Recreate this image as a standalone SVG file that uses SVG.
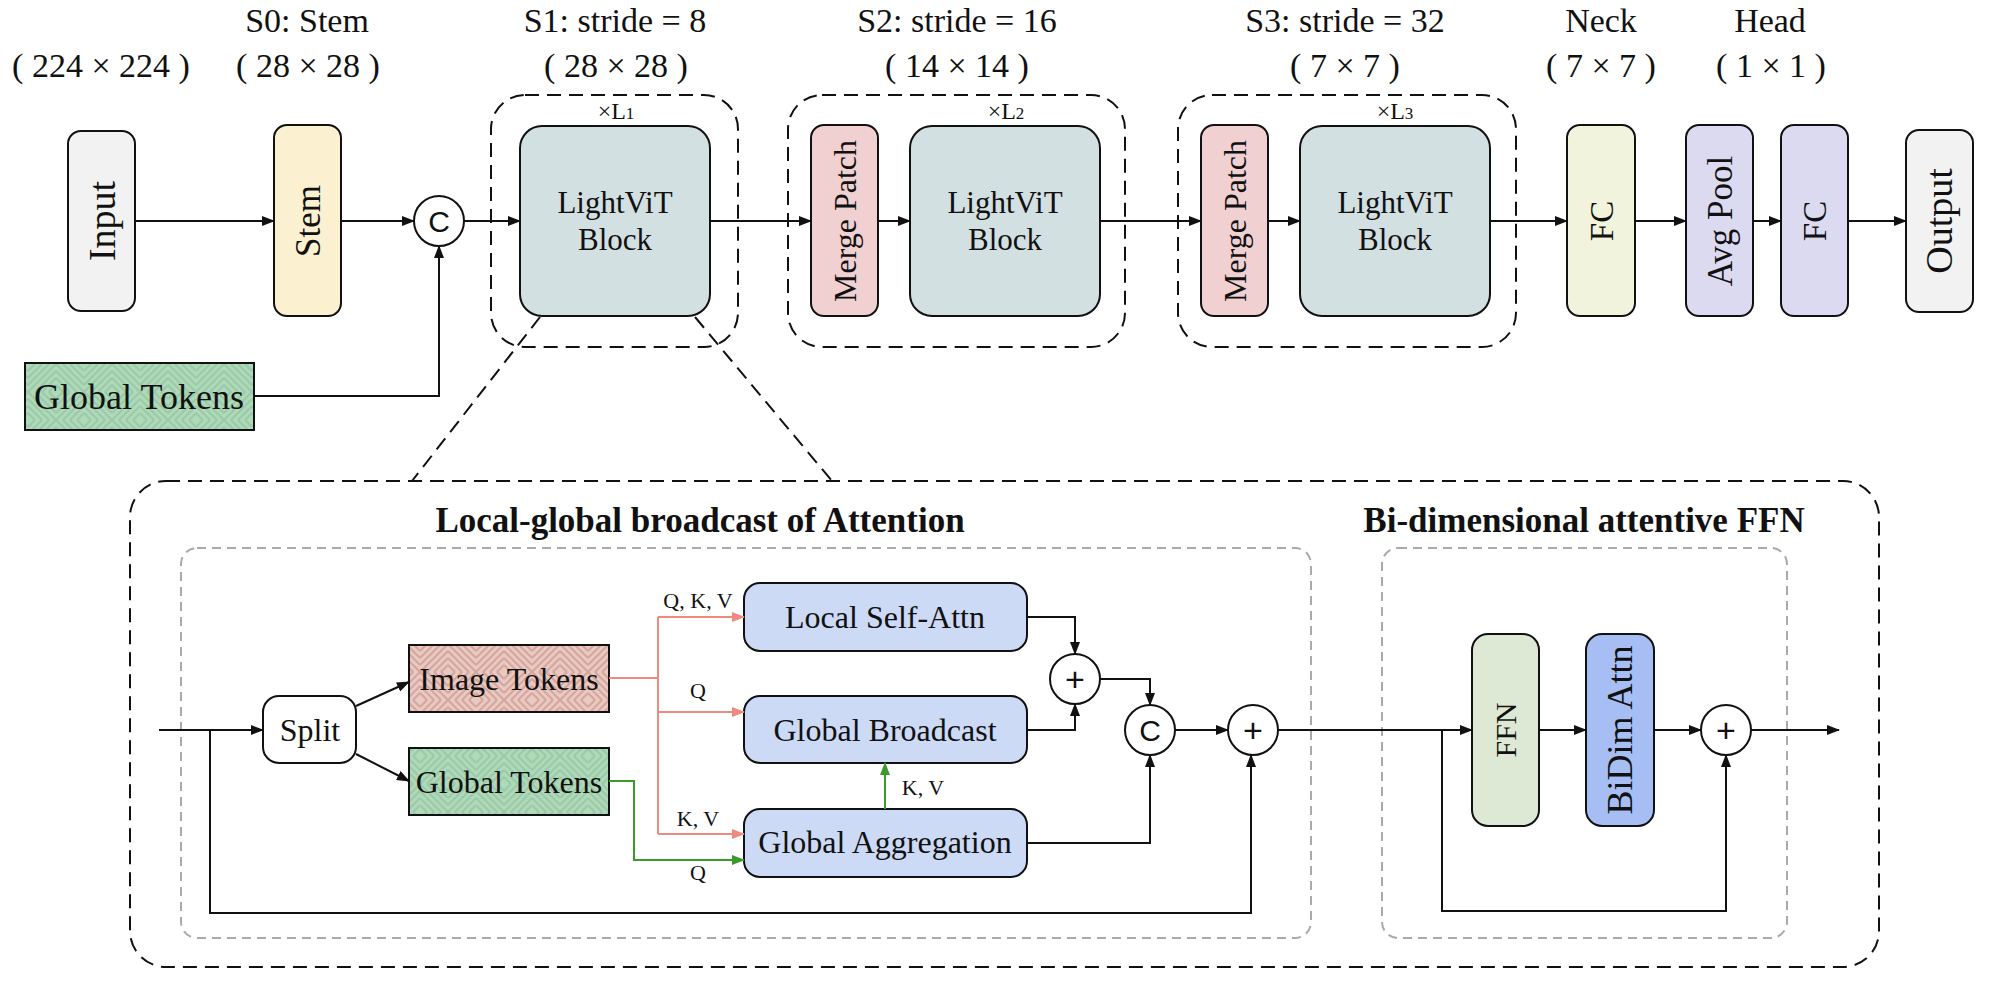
<svg xmlns="http://www.w3.org/2000/svg" width="1990" height="986" viewBox="0 0 1990 986">
<style>
.t{font-family:"Liberation Serif","Times New Roman",serif;fill:#111}
.b{font-weight:bold}
.s{font-family:"Liberation Sans",Arial,sans-serif;fill:#111}
.box{stroke:#111;stroke-width:2}
.ln{fill:none;stroke:#111;stroke-width:2}
.red{fill:none;stroke:#f08a80;stroke-width:2}
.grn{fill:none;stroke:#3a9a2a;stroke-width:2}
.dash{fill:none;stroke:#111;stroke-width:2;stroke-dasharray:14 8}
.gdash{fill:none;stroke:#aaa;stroke-width:2;stroke-dasharray:9 6}
</style>
<defs>
<marker id="ab" markerUnits="userSpaceOnUse" markerWidth="13" markerHeight="10" refX="12" refY="5" orient="auto"><path d="M0,0 L13,5 L0,10 z" fill="#111"/></marker>
<marker id="ar" markerUnits="userSpaceOnUse" markerWidth="13" markerHeight="10" refX="12" refY="5" orient="auto"><path d="M0,0 L13,5 L0,10 z" fill="#f08a80"/></marker>
<marker id="ag" markerUnits="userSpaceOnUse" markerWidth="13" markerHeight="10" refX="12" refY="5" orient="auto"><path d="M0,0 L13,5 L0,10 z" fill="#3a9a2a"/></marker>
<g id="weave">
<path d="M0,7 L7,0 M0,14 L14,0 M0,21 L21,0 M0,28 L28,0 M7,28 L28,7 M14,28 L28,14 M21,28 L28,21"/>
<path d="M28,0 L56,28 M35,0 L56,21 M42,0 L56,14 M49,0 L56,7 M28,7 L49,28 M28,14 L42,28 M28,21 L35,28"/>
<path d="M0,28 L28,56 M0,35 L21,56 M0,42 L14,56 M0,49 L7,56 M7,28 L28,49 M14,28 L28,42 M21,28 L28,35"/>
<path d="M28,56 L56,28 M35,56 L56,35 M42,56 L56,42 M49,56 L56,49 M28,49 L49,28 M28,42 L42,28 M28,35 L35,28"/>
</g>
<pattern id="pr" width="56" height="56" patternUnits="userSpaceOnUse">
<rect width="56" height="56" fill="#e8cac3"/>
<use href="#weave" stroke="#d7a69d" stroke-width="2.2"/>
</pattern>
<pattern id="pg" width="56" height="56" patternUnits="userSpaceOnUse">
<rect width="56" height="56" fill="#afdab6"/>
<use href="#weave" stroke="#9cc9ad" stroke-width="2.2"/>
</pattern>
</defs>
<rect width="1990" height="986" fill="#fff"/>

<g id="titles" class="t" font-size="34" text-anchor="middle">
<text x="307" y="32">S0: Stem</text>
<text x="615" y="32">S1: stride = 8</text>
<text x="957" y="32">S2: stride = 16</text>
<text x="1345" y="32">S3: stride = 32</text>
<text x="1601" y="32">Neck</text>
<text x="1770" y="32">Head</text>
<text x="101" y="77">( 224 × 224 )</text>
<text x="308" y="77">( 28 × 28 )</text>
<text x="616" y="77">( 28 × 28 )</text>
<text x="957" y="77">( 14 × 14 )</text>
<text x="1345" y="77">( 7 × 7 )</text>
<text x="1601" y="77">( 7 × 7 )</text>
<text x="1771" y="77">( 1 × 1 )</text>
</g>

<g id="stage-boxes">
<rect class="dash" x="491" y="95" width="247" height="252" rx="34"/>
<rect class="dash" x="788" y="95" width="337" height="252" rx="34"/>
<rect class="dash" x="1178" y="95" width="338" height="252" rx="34"/>
<g class="t" font-size="24" text-anchor="middle">
<text x="616" y="119">×L<tspan font-size="17">1</tspan></text>
<text x="1006" y="119">×L<tspan font-size="17">2</tspan></text>
<text x="1395" y="119">×L<tspan font-size="17">3</tspan></text>
</g>
</g>

<g id="input">
<rect class="box" x="68" y="131" width="67" height="180" rx="13" fill="#f2f2f2"/>
<text class="t" font-size="38" text-anchor="middle" transform="translate(115,221) rotate(-90)">Input</text>
</g>
<g id="stem">
<rect class="box" x="274" y="125" width="67" height="191" rx="13" fill="#fbf0d0"/>
<text class="t" font-size="35" text-anchor="middle" transform="translate(320,221) rotate(-90)">Stem</text>
</g>
<g id="concat-top">
<circle class="box" cx="439" cy="221" r="25" fill="#fff"/>
<text class="s" font-size="30" text-anchor="middle" x="439" y="232">C</text>
</g>
<g id="global-tokens-top">
<rect class="box" x="25" y="363" width="229" height="67" fill="url(#pg)"/>
<text class="t" font-size="36" text-anchor="middle" x="139" y="409">Global Tokens</text>
</g>
<g id="lightvit-1">
<rect class="box" x="520" y="126" width="190" height="190" rx="22" fill="#d3e0e2"/>
<text class="t" font-size="31" text-anchor="middle" x="615" y="213">LightViT</text>
<text class="t" font-size="31" text-anchor="middle" x="615" y="250">Block</text>
</g>
<g id="merge-2">
<rect class="box" x="811" y="125" width="67" height="191" rx="13" fill="#f0d0d0"/>
<text class="t" font-size="32" text-anchor="middle" transform="translate(856,221) rotate(-90)">Merge Patch</text>
</g>
<g id="lightvit-2">
<rect class="box" x="910" y="126" width="190" height="190" rx="22" fill="#d3e0e2"/>
<text class="t" font-size="31" text-anchor="middle" x="1005" y="213">LightViT</text>
<text class="t" font-size="31" text-anchor="middle" x="1005" y="250">Block</text>
</g>
<g id="merge-3">
<rect class="box" x="1201" y="125" width="67" height="191" rx="13" fill="#f0d0d0"/>
<text class="t" font-size="32" text-anchor="middle" transform="translate(1246,221) rotate(-90)">Merge Patch</text>
</g>
<g id="lightvit-3">
<rect class="box" x="1300" y="126" width="190" height="190" rx="22" fill="#d3e0e2"/>
<text class="t" font-size="31" text-anchor="middle" x="1395" y="213">LightViT</text>
<text class="t" font-size="31" text-anchor="middle" x="1395" y="250">Block</text>
</g>
<g id="fc-neck">
<rect class="box" x="1567" y="125" width="68" height="191" rx="13" fill="#f2f3dc"/>
<text class="t" font-size="33" text-anchor="middle" transform="translate(1613,221) rotate(-90)">FC</text>
</g>
<g id="avgpool">
<rect class="box" x="1686" y="125" width="67" height="191" rx="13" fill="#dcdaf0"/>
<text class="t" font-size="35" text-anchor="middle" transform="translate(1732,221) rotate(-90)">Avg Pool</text>
</g>
<g id="fc-head">
<rect class="box" x="1781" y="125" width="67" height="191" rx="13" fill="#dcdaf0"/>
<text class="t" font-size="33" text-anchor="middle" transform="translate(1826,221) rotate(-90)">FC</text>
</g>
<g id="output">
<rect class="box" x="1906" y="130" width="67" height="182" rx="13" fill="#f2f2f2"/>
<text class="t" font-size="38" text-anchor="middle" transform="translate(1952,221) rotate(-90)">Output</text>
</g>

<g id="block-detail">
<path class="dash" d="M540,317 L412,481 M695,317 L832,481"/>
<rect class="dash" x="130" y="481" width="1749" height="486" rx="36"/>
<rect class="gdash" x="181" y="548" width="1130" height="390" rx="16"/>
<rect class="gdash" x="1382" y="548" width="405" height="390" rx="16"/>
<text class="t b" font-size="35" text-anchor="middle" x="700" y="532">Local-global broadcast of Attention</text>
<text class="t b" font-size="35" text-anchor="middle" x="1584" y="532">Bi-dimensional attentive FFN</text>
</g>

<g id="split">
<rect class="box" x="263" y="696" width="93" height="67" rx="16" fill="#fff"/>
<text class="t" font-size="32" text-anchor="middle" x="310" y="741">Split</text>
</g>
<g id="image-tokens">
<rect class="box" x="409" y="645" width="200" height="67" fill="url(#pr)"/>
<text class="t" font-size="32" text-anchor="middle" x="509" y="690">Image Tokens</text>
</g>
<g id="global-tokens">
<rect class="box" x="409" y="748" width="200" height="67" fill="url(#pg)"/>
<text class="t" font-size="32" text-anchor="middle" x="509" y="793">Global Tokens</text>
</g>
<g id="local-self-attn">
<rect class="box" x="744" y="583" width="283" height="68" rx="16" fill="#ccdaf5"/>
<text class="t" font-size="32" text-anchor="middle" x="885" y="628">Local Self-Attn</text>
</g>
<g id="global-broadcast">
<rect class="box" x="744" y="696" width="283" height="67" rx="16" fill="#ccdaf5"/>
<text class="t" font-size="32" text-anchor="middle" x="885" y="741">Global Broadcast</text>
</g>
<g id="global-aggregation">
<rect class="box" x="744" y="809" width="283" height="68" rx="16" fill="#ccdaf5"/>
<text class="t" font-size="32" text-anchor="middle" x="885" y="853">Global Aggregation</text>
</g>
<g id="plus-1">
<circle class="box" cx="1075" cy="679" r="25" fill="#fff"/>
<text class="s" font-size="34" text-anchor="middle" x="1075" y="691">+</text>
</g>
<g id="concat">
<circle class="box" cx="1150" cy="730" r="25" fill="#fff"/>
<text class="s" font-size="30" text-anchor="middle" x="1150" y="741">C</text>
</g>
<g id="plus-2">
<circle class="box" cx="1253" cy="730" r="25" fill="#fff"/>
<text class="s" font-size="34" text-anchor="middle" x="1253" y="742">+</text>
</g>
<g id="ffn">
<rect class="box" x="1472" y="634" width="67" height="192" rx="16" fill="#dde8d5"/>
<text class="t" font-size="30" text-anchor="middle" transform="translate(1516,730) rotate(-90)">FFN</text>
</g>
<g id="bidim-attn">
<rect class="box" x="1586" y="634" width="68" height="192" rx="16" fill="#a6bef4"/>
<text class="t" font-size="36" text-anchor="middle" transform="translate(1632,730) rotate(-90)">BiDim Attn</text>
</g>
<g id="plus-3">
<circle class="box" cx="1726" cy="730" r="25" fill="#fff"/>
<text class="s" font-size="34" text-anchor="middle" x="1726" y="742">+</text>
</g>

<g id="connectors">
<path class="ln" d="M135,221 L274,221" marker-end="url(#ab)"/>
<path class="ln" d="M341,221 L414,221" marker-end="url(#ab)"/>
<path class="ln" d="M464,221 L520,221" marker-end="url(#ab)"/>
<path class="ln" d="M254,396 L439,396 L439,246" marker-end="url(#ab)"/>
<path class="ln" d="M710,221 L811,221" marker-end="url(#ab)"/>
<path class="ln" d="M878,221 L910,221" marker-end="url(#ab)"/>
<path class="ln" d="M1100,221 L1201,221" marker-end="url(#ab)"/>
<path class="ln" d="M1268,221 L1300,221" marker-end="url(#ab)"/>
<path class="ln" d="M1490,221 L1567,221" marker-end="url(#ab)"/>
<path class="ln" d="M1635,221 L1686,221" marker-end="url(#ab)"/>
<path class="ln" d="M1753,221 L1781,221" marker-end="url(#ab)"/>
<path class="ln" d="M1848,221 L1906,221" marker-end="url(#ab)"/>

<path class="ln" d="M159,730 L263,730" marker-end="url(#ab)"/>
<path class="ln" d="M210,730 L210,913 L1251,913 L1251,755" marker-end="url(#ab)"/>
<path class="ln" d="M356,706 L409,682" marker-end="url(#ab)"/>
<path class="ln" d="M356,754 L409,781" marker-end="url(#ab)"/>
<path class="red" d="M609,678 L658,678 M658,617 L658,834"/>
<path class="red" d="M658,617 L744,617" marker-end="url(#ar)"/>
<path class="red" d="M658,712 L744,712" marker-end="url(#ar)"/>
<path class="red" d="M658,834 L744,834" marker-end="url(#ar)"/>
<path class="grn" d="M609,781 L634,781 L634,860 L744,860" marker-end="url(#ag)"/>
<path class="grn" d="M885,809 L885,763" marker-end="url(#ag)"/>
<path class="ln" d="M1027,617 L1075,617 L1075,654" marker-end="url(#ab)"/>
<path class="ln" d="M1027,730 L1075,730 L1075,704" marker-end="url(#ab)"/>
<path class="ln" d="M1100,679 L1150,679 L1150,705" marker-end="url(#ab)"/>
<path class="ln" d="M1027,843 L1150,843 L1150,755" marker-end="url(#ab)"/>
<path class="ln" d="M1175,730 L1228,730" marker-end="url(#ab)"/>
<path class="ln" d="M1278,730 L1472,730" marker-end="url(#ab)"/>
<path class="ln" d="M1442,730 L1442,911 L1726,911 L1726,755" marker-end="url(#ab)"/>
<path class="ln" d="M1539,730 L1586,730" marker-end="url(#ab)"/>
<path class="ln" d="M1654,730 L1701,730" marker-end="url(#ab)"/>
<path class="ln" d="M1751,730 L1839,730" marker-end="url(#ab)"/>
<g class="t" font-size="22" text-anchor="middle">
<text x="698" y="608">Q, K, V</text>
<text x="698" y="698">Q</text>
<text x="698" y="826">K, V</text>
<text x="698" y="880">Q</text>
<text x="923" y="795">K, V</text>
</g>
</g>
</svg>
